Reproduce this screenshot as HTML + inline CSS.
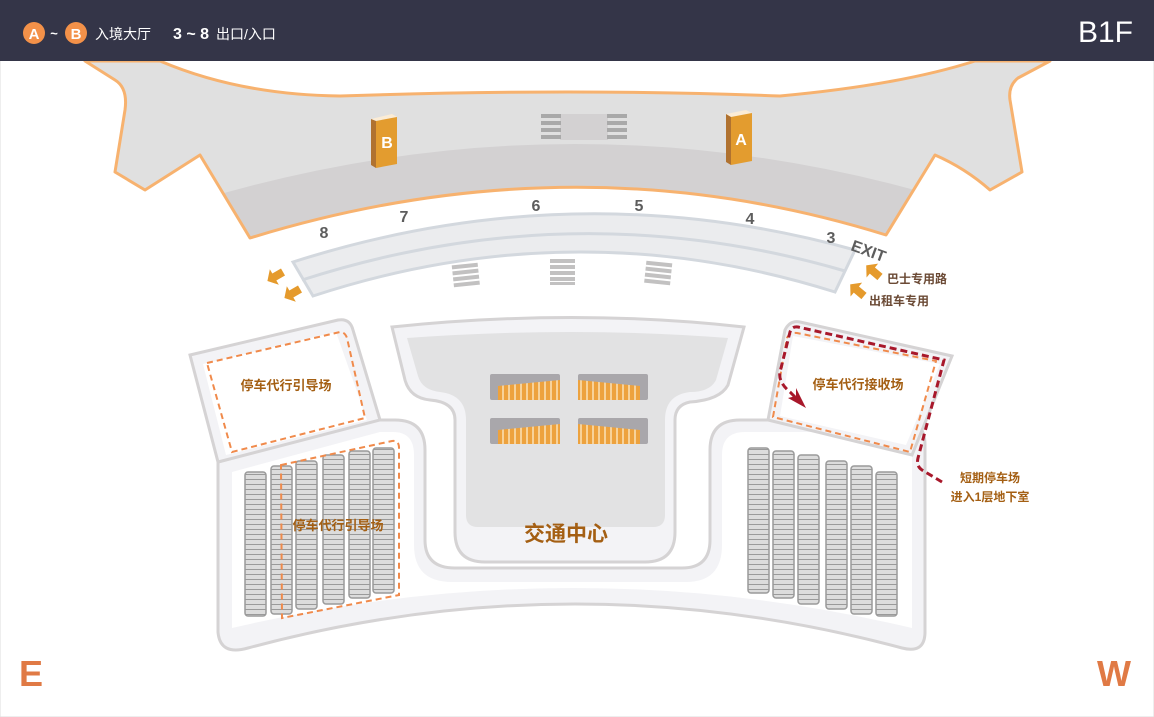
<!DOCTYPE html>
<html><head><meta charset="utf-8"><style>
html,body{margin:0;padding:0;background:#fff;}
body{width:1154px;height:717px;overflow:hidden;font-family:"Liberation Sans","Noto Sans CJK SC",sans-serif;}
svg{display:block}
</style></head><body>
<svg width="1154" height="717" viewBox="0 0 1154 717" xmlns="http://www.w3.org/2000/svg" font-family="Liberation Sans, Noto Sans CJK SC, sans-serif">
<defs>
<pattern id="pk" width="20" height="5" patternUnits="userSpaceOnUse"><rect width="20" height="5" fill="#dcdcdc"/><line x1="0" y1="4.5" x2="20" y2="4.5" stroke="#9a9a9a" stroke-width="1"/></pattern>
<pattern id="es" width="6" height="30" patternUnits="userSpaceOnUse"><rect width="4" height="30" fill="#eda23e"/><rect x="4" width="2" height="30" fill="#f7d29a"/></pattern>
<clipPath id="term"><path d="M85,61 L160,61 Q240,95 340,96 Q575,88 780,96 Q900,85 975,61 L1050,61 L1018,78 Q1008,86 1010,100 L1022,172 L990,190 Q965,168 935,155 L886,235 Q575,138 250,238 L200,155 L145,190 L115,172 L125,110 Q128,88 115,80 Z"/></clipPath>
</defs>
<rect x="0" y="0" width="1154" height="717" fill="#fff" stroke="#ddd"/>
<!-- terminal -->
<path d="M85,61 L160,61 Q240,95 340,96 Q575,88 780,96 Q900,85 975,61 L1050,61 L1018,78 Q1008,86 1010,100 L1022,172 L990,190 Q965,168 935,155 L886,235 Q575,138 250,238 L200,155 L145,190 L115,172 L125,110 Q128,88 115,80 Z" fill="#e0e0e0"/>
<path clip-path="url(#term)" d="M200,200 Q575,88 950,200 L950,260 L200,260 Z" fill="#d3d1d2"/>
<path d="M85,61 L160,61 Q240,95 340,96 Q575,88 780,96 Q900,85 975,61 L1050,61 L1018,78 Q1008,86 1010,100 L1022,172 L990,190 Q965,168 935,155 L886,235 Q575,138 250,238 L200,155 L145,190 L115,172 L125,110 Q128,88 115,80 Z" fill="none" stroke="#f7b26f" stroke-width="3" stroke-linejoin="round"/>
<rect x="0" y="0" width="1154" height="61" fill="#343548"/>
<rect x="560" y="114" width="48" height="26" fill="#d3d1d2"/>
<g fill="#a9a9a9"><rect x="541" y="114" width="20" height="4"/><rect x="541" y="121" width="20" height="4"/><rect x="541" y="128" width="20" height="4"/><rect x="541" y="135" width="20" height="4"/>
<rect x="607" y="114" width="20" height="4"/><rect x="607" y="121" width="20" height="4"/><rect x="607" y="128" width="20" height="4"/><rect x="607" y="135" width="20" height="4"/></g>
<!-- pillars -->
<g><polygon points="371,119 392,114 397,117 376,121" fill="#fbecd6"/><polygon points="371,119 376,121 376,168 371,165" fill="#b07230"/><polygon points="376,121 397,117 397,164 376,168" fill="#e39c2f"/><text x="387" y="148" font-size="16" font-weight="bold" fill="#fff" text-anchor="middle">B</text></g>
<g><polygon points="726,114 746,110 752,113 731,117" fill="#fbecd6"/><polygon points="726,114 731,117 731,165 726,162" fill="#b07230"/><polygon points="731,117 752,113 752,161 731,165" fill="#e39c2f"/><text x="741" y="145" font-size="16" font-weight="bold" fill="#fff" text-anchor="middle">A</text></g>
<!-- road arc -->
<path d="M293,262 Q575,172 855,250 L835,292 Q575,210 313,296 Z" fill="#ebecee" stroke="#d3d8de" stroke-width="3"/>
<path d="M302,280 Q575,192 845,271" fill="none" stroke="#d3d8de" stroke-width="3"/>
<g font-size="16" font-weight="bold" fill="#5d5d5d" text-anchor="middle"><text x="324" y="238">8</text><text x="404" y="222">7</text><text x="536" y="211">6</text><text x="639" y="211">5</text><text x="750" y="224">4</text><text x="831" y="243">3</text></g>
<text x="850" y="250" font-size="16" font-weight="bold" fill="#5d5d5d" transform="rotate(20 850 250)">EXIT</text>
<g fill="#c2c1c1"><g transform="rotate(-6 466 277)"><rect x="453" y="264" width="26" height="4"/><rect x="453" y="270" width="26" height="4"/><rect x="453" y="276" width="26" height="4"/><rect x="453" y="282" width="26" height="4"/></g>
<rect x="550" y="259" width="25" height="4"/><rect x="550" y="265" width="25" height="4"/><rect x="550" y="271" width="25" height="4"/><rect x="550" y="277" width="25" height="4"/><rect x="550" y="282" width="25" height="3"/>
<g transform="rotate(6 658 275)"><rect x="645" y="262" width="26" height="4"/><rect x="645" y="268" width="26" height="4"/><rect x="645" y="274" width="26" height="4"/><rect x="645" y="280" width="26" height="4"/></g></g>
<!-- arrows -->
<g fill="#e59a2c">
<path d="M0,-4 L10,-4 L10,-9 L18,0 L10,9 L10,4 L0,4Z" transform="translate(283,272) rotate(150)"/>
<path d="M0,-4 L10,-4 L10,-9 L18,0 L10,9 L10,4 L0,4Z" transform="translate(300,289) rotate(150)"/>
<path d="M0,-4 L10,-4 L10,-9 L18,0 L10,9 L10,4 L0,4Z" transform="translate(880,277) rotate(-140)"/>
<path d="M0,-4 L10,-4 L10,-9 L18,0 L10,9 L10,4 L0,4Z" transform="translate(864,296) rotate(-140)"/>
</g>
<text x="887" y="283" font-size="12" font-weight="bold" fill="#6b4a35">巴士专用路</text>
<text x="869" y="305" font-size="12" font-weight="bold" fill="#6b4a35">出租车专用</text>
<!-- lower complex -->
<path d="M218,462 L218,632 Q220,656 248,648 Q575,560 902,648 Q925,654 925,632 L925,445 Q925,420 900,420 L740,420 Q710,420 710,450 L710,540 Q710,568 682,568 L455,568 Q425,568 425,540 L425,450 Q425,420 395,420 L370,420 Z" fill="#f3f3f6" stroke="#d5d3d4" stroke-width="3"/>
<path d="M232,472 L232,628 Q575,548 912,628 L912,445 Q912,432 900,432 L745,432 Q722,432 722,455 L722,545 Q722,582 686,582 L452,582 Q414,582 414,545 L414,455 Q414,432 393,432 L380,432 Z" fill="#fff"/>
<path d="M190,355 L338,320 Q350,318 353,330 L380,420 L218,462 Z" fill="#f3f3f6" stroke="#d5d3d4" stroke-width="3"/>
<path d="M203,364 L336,332 L367,420 L226,455 Z" fill="#fff"/>
<path d="M768,420 L785,330 Q790,320 800,322 L952,356 L912,455 Z" fill="#f3f3f6" stroke="#d5d3d4" stroke-width="3"/>
<path d="M780,416 L793,336 L940,364 L906,445 Z" fill="#fff"/>
<path d="M392,327 Q575,308 744,327 L728,385 Q720,400 690,402 Q675,405 675,420 L675,532 Q675,562 645,562 L485,562 Q455,562 455,532 L455,420 Q455,402 430,400 Q410,398 405,380 Z" fill="#f3f3f6" stroke="#d5d3d4" stroke-width="3"/>
<path d="M407,338 Q575,326 728,338 L716,380 Q710,392 690,392 Q665,395 665,420 L665,515 Q665,527 653,527 L478,527 Q466,527 466,515 L466,420 Q466,395 440,392 Q422,390 418,376 Z" fill="#e2e2e3"/>
<!-- escalators -->
<g><rect x="490" y="374" width="70" height="26" rx="2" fill="#a9a7ab"/><path d="M498,400 L498,386 L560,380 L560,400Z" fill="url(#es)"/>
<rect x="578" y="374" width="70" height="26" rx="2" fill="#a9a7ab"/><path d="M578,400 L578,380 L640,386 L640,400Z" fill="url(#es)"/>
<rect x="490" y="418" width="70" height="26" rx="2" fill="#a9a7ab"/><path d="M498,444 L498,430 L560,424 L560,444Z" fill="url(#es)"/>
<rect x="578" y="418" width="70" height="26" rx="2" fill="#a9a7ab"/><path d="M578,444 L578,424 L640,430 L640,444Z" fill="url(#es)"/></g>
<text x="566" y="541" font-size="21" font-weight="bold" fill="#a45f13" text-anchor="middle">交通中心</text>
<!-- parking rows -->
<g fill="url(#pk)" stroke="#9a9a9a" stroke-width="1.5">
<rect x="245" y="472" width="21" height="144" rx="3"/><rect x="271" y="466" width="21" height="148" rx="3"/><rect x="296" y="461" width="21" height="148" rx="3"/><rect x="323" y="455" width="21" height="149" rx="3"/><rect x="349" y="451" width="21" height="147" rx="3"/><rect x="373" y="448" width="21" height="145" rx="3"/>
<rect x="748" y="448" width="21" height="145" rx="3"/><rect x="773" y="451" width="21" height="147" rx="3"/><rect x="798" y="455" width="21" height="149" rx="3"/><rect x="826" y="461" width="21" height="148" rx="3"/><rect x="851" y="466" width="21" height="148" rx="3"/><rect x="876" y="472" width="21" height="144" rx="3"/>
</g>
<!-- dashed zones -->
<g fill="none" stroke="#f08a4b" stroke-width="2" stroke-dasharray="6,4">
<path d="M207,363 L340,332 Q345,332 347,338 L365,418 L232,452 Z"/>
<path d="M281,465 L392,441 Q399,440 399,448 L399,595 L282,618 Z"/>
<path d="M773,417 L787,338 Q790,332 797,333 L936,361 L910,452 Z"/>
</g>
<text x="286" y="390" font-size="13" font-weight="bold" fill="#a45f13" text-anchor="middle">停车代行引导场</text>
<text x="338" y="530" font-size="13" font-weight="bold" fill="#a45f13" text-anchor="middle">停车代行引导场</text>
<text x="858" y="389" font-size="13" font-weight="bold" fill="#a45f13" text-anchor="middle">停车代行接收场</text>
<path d="M942,482 L922,470 Q916,466 918,458 L944,360 L798,327 Q792,326 790,332 L780,372 Q778,382 790,392 L796,398" fill="none" stroke="#a8182b" stroke-width="3" stroke-dasharray="7,4"/>
<path d="M806,408 L788,398 L796,396 L796,388 Z" fill="#a8182b"/>
<text x="990" y="482" font-size="12" font-weight="bold" fill="#a45f13" text-anchor="middle">短期停车场</text>
<text x="990" y="501" font-size="12" font-weight="bold" fill="#a45f13" text-anchor="middle">进入1层地下室</text>
<text x="19" y="686" font-size="36" font-weight="bold" fill="#e07a45">E</text>
<text x="1097" y="686" font-size="36" font-weight="bold" fill="#e07a45">W</text>
<!-- header -->
<circle cx="34" cy="33" r="11" fill="#f39149"/><text x="34" y="39" font-size="15" font-weight="bold" fill="#fff" text-anchor="middle">A</text>
<text x="54" y="38" font-size="13" font-weight="bold" fill="#fff" text-anchor="middle">~</text>
<circle cx="76" cy="33" r="11" fill="#f39149"/><text x="76" y="39" font-size="15" font-weight="bold" fill="#fff" text-anchor="middle">B</text>
<text x="95" y="39" font-size="14" fill="#fff">入境大厅</text>
<text x="173" y="39" font-size="16" font-weight="bold" fill="#fff">3 ~ 8</text>
<text x="216" y="39" font-size="14" fill="#fff">出口/入口</text>
<text x="1133" y="42" font-size="30" fill="#fff" text-anchor="end">B1F</text>
</svg>
</body></html>
